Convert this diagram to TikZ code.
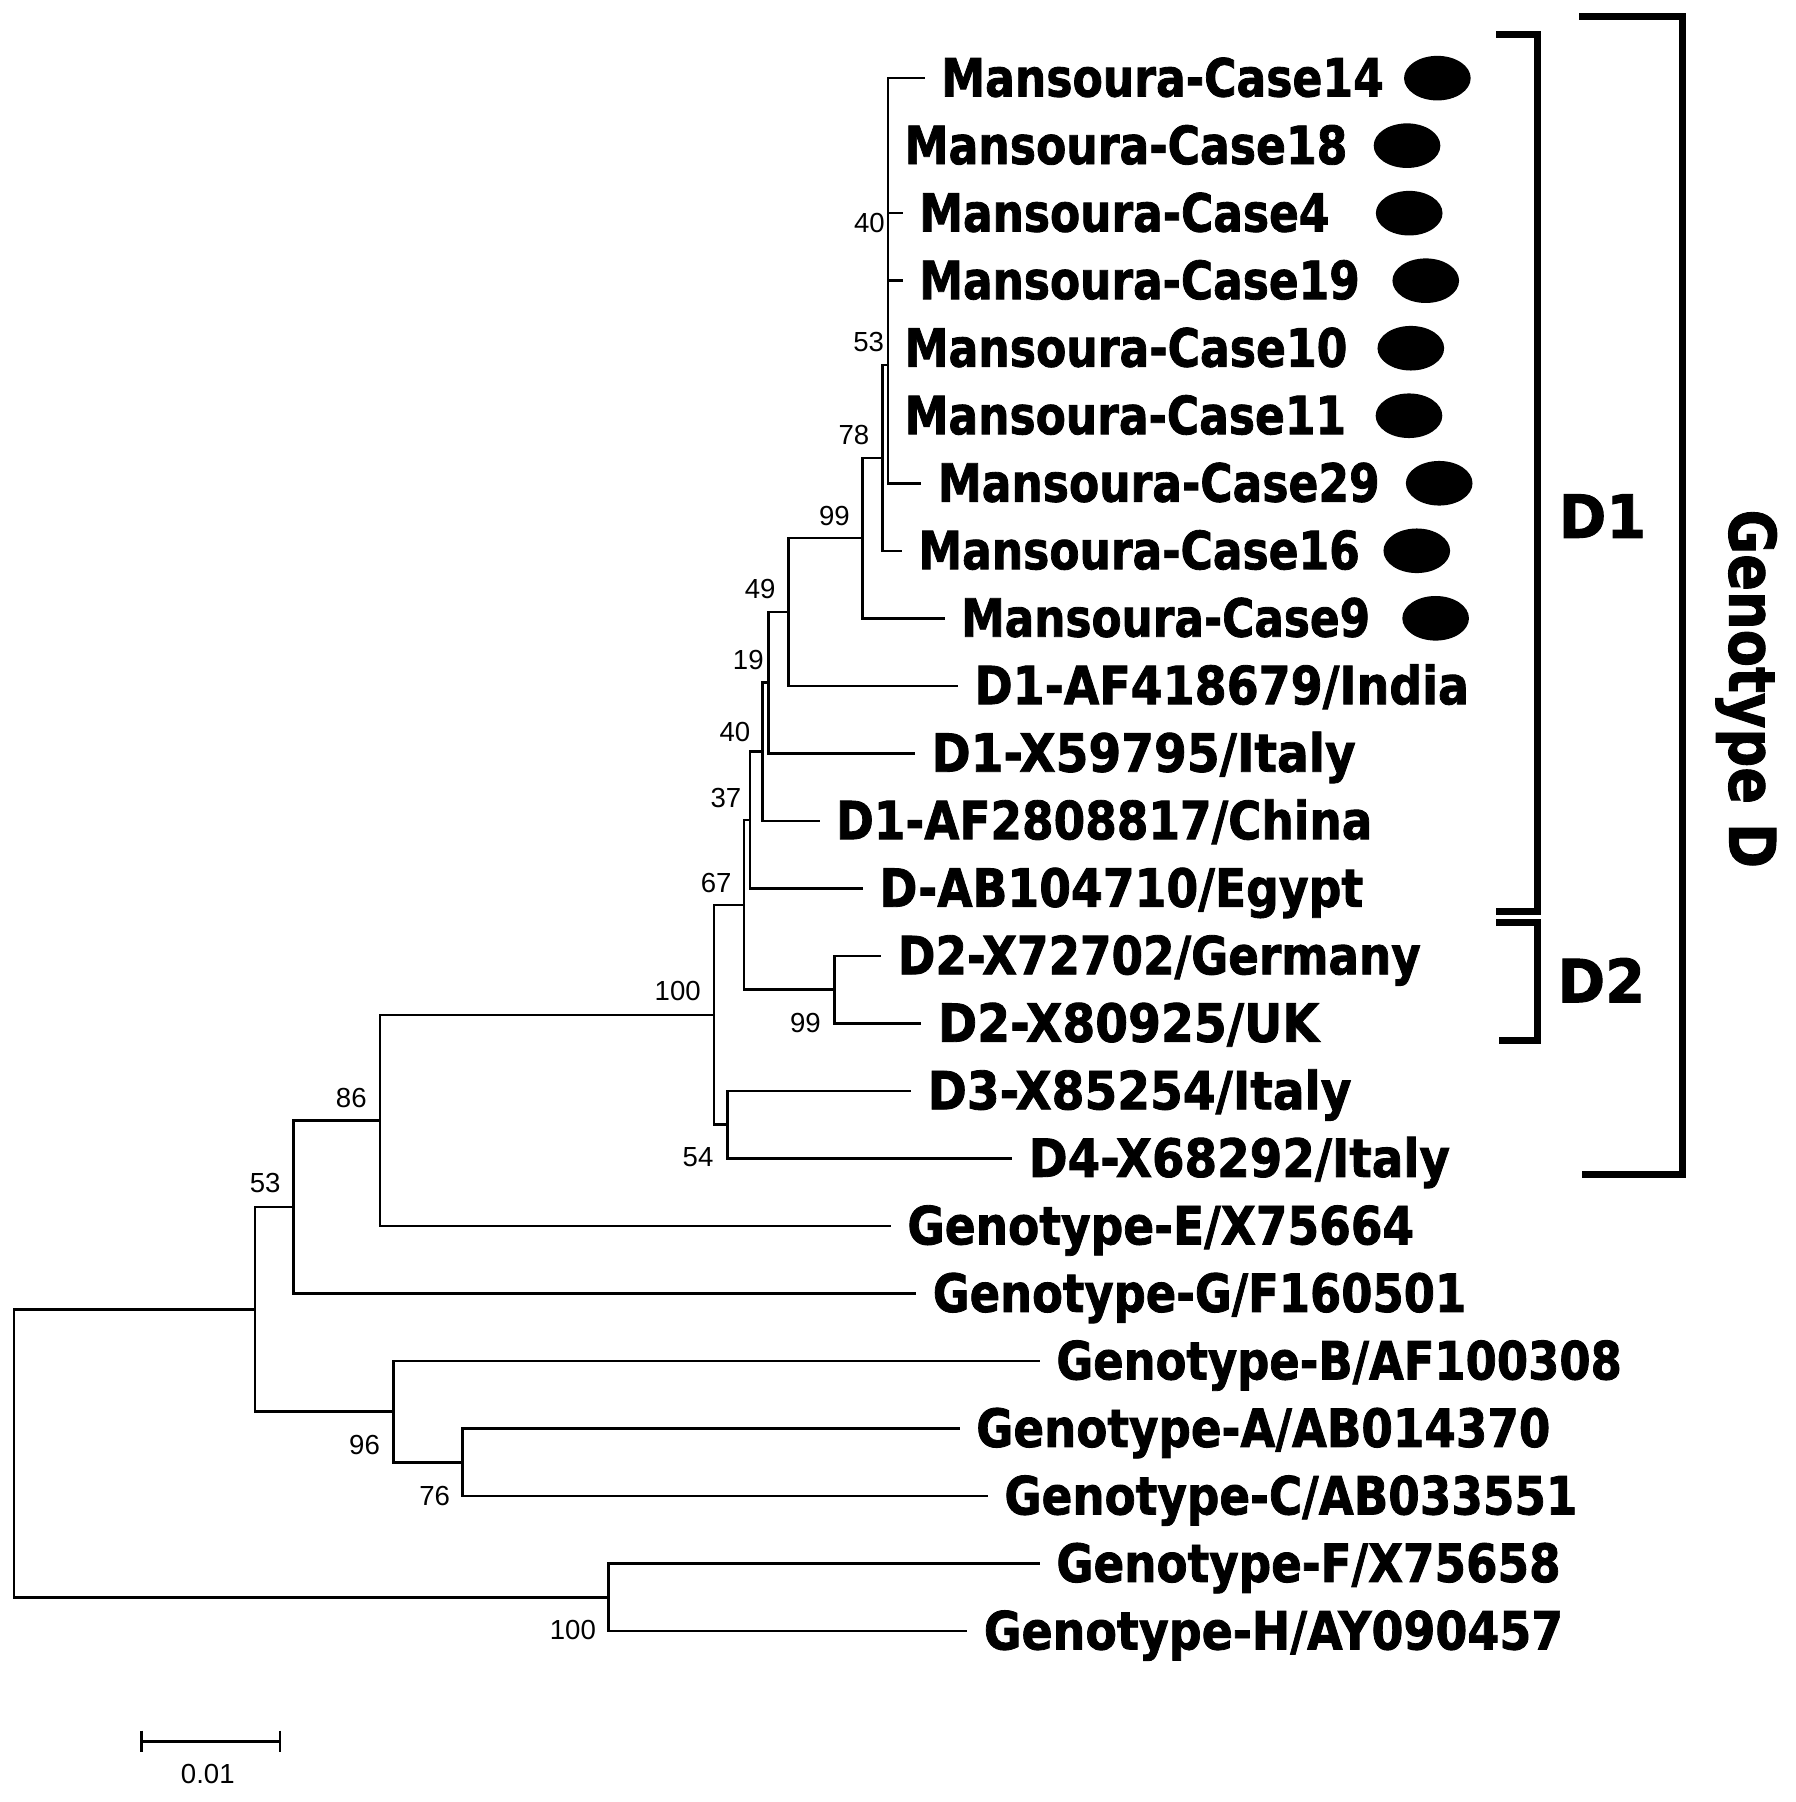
\documentclass[tikz,border=0pt]{standalone}
\usepackage{fontspec}
\usepackage{graphicx}
\usetikzlibrary{shapes.geometric}
\newfontfamily\dv{DejaVu Sans}[BoldFeatures={FakeBold=1.6}]
\newfontfamily\lib{Liberation Sans}
\newdimen\upx \upx=0.5pt
\newcommand\fitw[2]{\resizebox{#1\upx}{\height}{#2}}
\begin{document}
\begin{tikzpicture}[x=0.5pt,y=-0.5pt,
  br/.style={line width=1.1pt},
  leaf/.style={anchor=base west, inner sep=0pt, font=\dv\bfseries\fontsize{22.9}{24}\selectfont},
  boot/.style={inner sep=0pt, font=\lib\fontsize{12}{13}\selectfont},
  dot/.style={ellipse, fill=black, minimum width=29pt, minimum height=19.4pt, inner sep=0pt},
  clade/.style={line width=3pt, line join=miter},
  cladetext/.style={anchor=base west, inner sep=0pt, font=\dv\bfseries\fontsize{26}{28}\selectfont}
]
\useasboundingbox (0,0) rectangle (1562,1568);

% internal nodes
\coordinate (root) at (12,1264.6);
\coordinate (nL) at (221.8,1139.3);
\coordinate (nFH) at (529.5,1389.9);
\coordinate (n53b) at (255.3,1050.2);
\coordinate (n96) at (342.2,1228.3);
\coordinate (n76) at (402.6,1272.4);
\coordinate (n86) at (330.7,974.9);
\coordinate (n100a) at (621.1,883);
\coordinate (n54) at (632.9,978.6);
\coordinate (n67) at (647.4,787.4);
\coordinate (n99b) at (726.1,861.1);
\coordinate (n37) at (652.6,713.6);
\coordinate (n40b) at (663.7,654.1);
\coordinate (n19) at (668.6,594);
\coordinate (n49) at (686,532.5);
\coordinate (n99a) at (750.5,468.2);
\coordinate (n78) at (767.8,398.5);
\coordinate (n53a) at (772.8,317.7);
\coordinate (n40a) at (772.8,214.9);

% leaf tips
\coordinate (c14) at (804.6,68);
\coordinate (c18) at (772.8,126.75);
\coordinate (c4) at (785.5,185.5);
\coordinate (c19) at (785.5,244.25);
\coordinate (c10) at (772.8,303);
\coordinate (c11) at (772.8,361.75);
\coordinate (c29) at (801.7,420.5);
\coordinate (c16) at (784.7,479.25);
\coordinate (c9) at (821.9,538);
\coordinate (india) at (833.6,596.75);
\coordinate (italy1) at (796.2,655.5);
\coordinate (china) at (713.2,714.25);
\coordinate (egypt) at (750.9,773);
\coordinate (germany) at (766.9,831.75);
\coordinate (uk) at (801.8,890.5);
\coordinate (d3) at (792.9,949.25);
\coordinate (d4) at (880.8,1008);
\coordinate (ge) at (775.2,1066.75);
\coordinate (gg) at (797.3,1125.5);
\coordinate (gb) at (904.8,1184.25);
\coordinate (ga) at (835.1,1243);
\coordinate (gc) at (859.6,1301.75);
\coordinate (gf) at (904.8,1360.5);
\coordinate (gh) at (841.7,1419.25);

% branches
\draw[br] (root) |- (nL);  \draw[br] (root) |- (nFH);
\draw[br] (nL) |- (n53b);  \draw[br] (nL) |- (n96);
\draw[br] (n53b) |- (n86); \draw[br] (n53b) |- (gg);
\draw[br] (n86) |- (n100a); \draw[br] (n86) |- (ge);
\draw[br] (n100a) |- (n67); \draw[br] (n100a) |- (n54);
\draw[br] (n54) |- (d3); \draw[br] (n54) |- (d4);
\draw[br] (n67) |- (n37); \draw[br] (n67) |- (n99b);
\draw[br] (n99b) |- (germany); \draw[br] (n99b) |- (uk);
\draw[br] (n37) |- (n40b); \draw[br] (n37) |- (egypt);
\draw[br] (n40b) |- (n19); \draw[br] (n40b) |- (china);
\draw[br] (n19) |- (n49); \draw[br] (n19) |- (italy1);
\draw[br] (n49) |- (n99a); \draw[br] (n49) |- (india);
\draw[br] (n99a) |- (n78); \draw[br] (n99a) |- (c9);
\draw[br] (n78) |- (n53a); \draw[br] (n78) |- (c16);
\draw[br] (n53a) |- (n40a); \draw[br] (n53a) |- (c29);
\draw[br] (n40a) |- (c14); \draw[br] (n40a) |- (c18);
\draw[br] (n40a) |- (c4); \draw[br] (n40a) |- (c19);
\draw[br] (n40a) |- (c10); \draw[br] (n40a) |- (c11);
\draw[br] (n96) |- (gb); \draw[br] (n96) |- (n76);
\draw[br] (n76) |- (ga); \draw[br] (n76) |- (gc);
\draw[br] (nFH) |- (gf); \draw[br] (nFH) |- (gh);

% leaf labels
\node[leaf] (lc14) at ([xshift=7pt,yshift=-8pt]c14) {\fitw{385.1}{Mansoura-Case14}};
\node[leaf] (lc18) at ([xshift=7pt,yshift=-8pt]c18) {\fitw{385.2}{Mansoura-Case18}};
\node[leaf] (lc4) at ([xshift=7pt,yshift=-8pt]c4) {\fitw{356.9}{Mansoura-Case4}};
\node[leaf] (lc19) at ([xshift=7pt,yshift=-8pt]c19) {\fitw{383.3}{Mansoura-Case19}};
\node[leaf] (lc10) at ([xshift=7pt,yshift=-8pt]c10) {\fitw{385.2}{Mansoura-Case10}};
\node[leaf] (lc11) at ([xshift=7pt,yshift=-8pt]c11) {\fitw{384.1}{Mansoura-Case11}};
\node[leaf] (lc29) at ([xshift=7pt,yshift=-8pt]c29) {\fitw{384.4}{Mansoura-Case29}};
\node[leaf] (lc16) at ([xshift=7pt,yshift=-8pt]c16) {\fitw{384.1}{Mansoura-Case16}};
\node[leaf] (lc9) at ([xshift=7pt,yshift=-8pt]c9) {\fitw{355.9}{Mansoura-Case9}};
\node[leaf] (lindia) at ([xshift=7pt,yshift=-8pt]india) {\fitw{430.2}{D1-AF418679/India}};
\node[leaf] (litaly1) at ([xshift=7pt,yshift=-8pt]italy1) {\fitw{369}{D1-X59795/Italy}};
\node[leaf] (lchina) at ([xshift=7pt,yshift=-8pt]china) {\fitw{466.5}{D1-AF2808817/China}};
\node[leaf] (legypt) at ([xshift=7pt,yshift=-8pt]egypt) {\fitw{420.9}{D-AB104710/Egypt}};
\node[leaf] (lgermany) at ([xshift=7pt,yshift=-8pt]germany) {\fitw{454.9}{D2-X72702/Germany}};
\node[leaf] (luk) at ([xshift=7pt,yshift=-8pt]uk) {\fitw{331.5}{D2-X80925/UK}};
\node[leaf] (ld3) at ([xshift=7pt,yshift=-8pt]d3) {\fitw{368.6}{D3-X85254/Italy}};
\node[leaf] (ld4) at ([xshift=7pt,yshift=-8pt]d4) {\fitw{366.4}{D4-X68292/Italy}};
\node[leaf] (lge) at ([xshift=7pt,yshift=-8pt]ge) {\fitw{440.9}{Genotype-E/X75664}};
\node[leaf] (lgg) at ([xshift=7pt,yshift=-8pt]gg) {\fitw{464.1}{Genotype-G/F160501}};
\node[leaf] (lgb) at ([xshift=7pt,yshift=-8pt]gb) {\fitw{492}{Genotype-B/AF100308}};
\node[leaf] (lga) at ([xshift=7pt,yshift=-8pt]ga) {\fitw{499.5}{Genotype-A/AB014370}};
\node[leaf] (lgc) at ([xshift=7pt,yshift=-8pt]gc) {\fitw{498.6}{Genotype-C/AB033551}};
\node[leaf] (lgf) at ([xshift=7pt,yshift=-8pt]gf) {\fitw{438.7}{Genotype-F/X75658}};
\node[leaf] (lgh) at ([xshift=7pt,yshift=-8pt]gh) {\fitw{504.1}{Genotype-H/AY090457}};

% black ellipses
\node[dot] (e14) at (1250.7,68) {};
\node[dot] (e18) at (1224.3,126.75) {};
\node[dot] (e4) at (1226.2,185.5) {};
\node[dot] (e19) at (1240.6,244.25) {};
\node[dot] (e10) at (1227.6,303) {};
\node[dot] (e11) at (1226,361.75) {};
\node[dot] (e29) at (1252.3,420.5) {};
\node[dot] (e16) at (1232.8,479.25) {};
\node[dot] (e9) at (1249.2,538) {};

% bootstrap values
\node[boot] (b40a) at (756.5,194.2) {40};
\node[boot] (b53a) at (755.9,297.2) {53};
\node[boot] (b78) at (743,378.8) {78};
\node[boot] (b99a) at (726.1,449.3) {99};
\node[boot] (b49) at (661.5,512.9) {49};
\node[boot] (b19) at (651.1,574) {19};
\node[boot] (b40b) at (639.5,636.8) {40};
\node[boot] (b37) at (631.6,694.6) {37};
\node[boot] (b67) at (623.1,768.6) {67};
\node[boot] (b100a) at (589.7,862.4) {100};
\node[boot] (b99b) at (700.8,890.5) {99};
\node[boot] (b54) at (607.4,1007.3) {54};
\node[boot] (b86) at (305.7,955.4) {86};
\node[boot] (b53b) at (230.8,1029.4) {53};
\node[boot] (b96) at (317.2,1257.2) {96};
\node[boot] (b76) at (378.2,1302) {76};
\node[boot] (b100b) at (498.5,1418.6) {100};

% clade brackets
\coordinate (d1t) at (1302,30);
\coordinate (d1b) at (1302,793.3);
\coordinate (d2t) at (1302,802.6);
\coordinate (d2b) at (1304,905);
\coordinate (gdt) at (1374.3,14.6);
\coordinate (gdb) at (1376.3,1022);
\draw[clade] (d1t) -- ++(35.5,0) |- (d1b);
\draw[clade] (d2t) -- ++(35.5,0) |- (d2b);
\draw[clade] (gdt) -- ++(89.6,0) |- (gdb);
\node[cladetext] (td1) at (1356,468) {\fitw{76}{D1}};
\node[cladetext] (td2) at (1355,872.2) {\fitw{76}{D2}};
\node[anchor=base west, rotate=-90, inner sep=0pt, font=\dv\bfseries\fontsize{27.85}{30}\selectfont] (tgd) at (1504.8,443) {\fitw{312}{Genotype D}};

% scale bar
\coordinate (sb1) at (122.9,1515.3);
\coordinate (sb2) at (243.8,1515.3);
\draw[br] (sb1) -- (sb2);
\draw[br] ([yshift=4.7pt]sb1) -- ([yshift=-4.7pt]sb1);
\draw[br] ([yshift=4.7pt]sb2) -- ([yshift=-4.7pt]sb2);
\node[boot] (sbl) at (180.8,1543.5) {0.01};
\end{tikzpicture}
\end{document}
